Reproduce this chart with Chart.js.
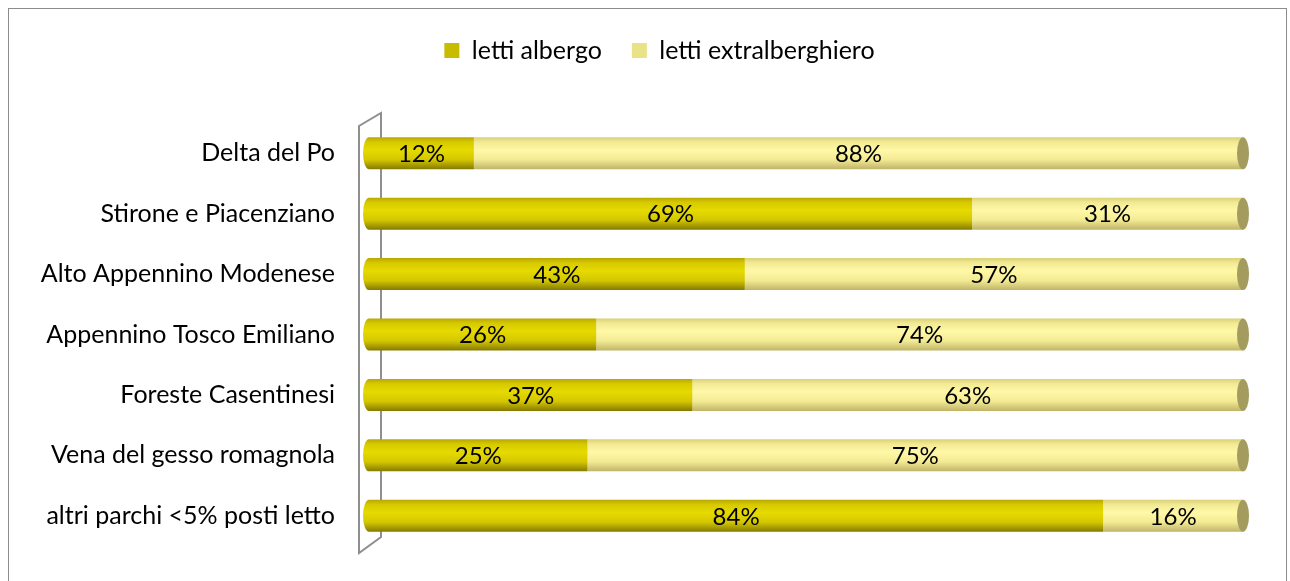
<!DOCTYPE html>
<html>
<head>
<meta charset="utf-8">
<script src="https://cdn.jsdelivr.net/npm/chart.js@4"></script>
<style>
  html, body { margin: 0; padding: 0; background: #fff; }
  #wrap { width: 1290px; height: 581px; position: relative; }
</style>
</head>
<body>
<div id="wrap"><canvas id="chart" width="1290" height="581"></canvas></div>
<script>
// ── DATA ──────────────────────────────────────────────────────────────────────
const categories = [
  'Delta del Po',
  'Stirone e Piacenziano',
  'Alto Appennino Modenese',
  'Appennino Tosco Emiliano',
  'Foreste Casentinesi',
  'Vena del gesso romagnola',
  'altri parchi <5% posti letto'
];
const lettiAlbergo = [12, 69, 43, 26, 37, 25, 84];
const lettiExtra   = [88, 31, 57, 74, 63, 75, 16];

const FONT = 'Lato, "Open Sans", sans-serif';
const BAR_PCT = 0.53;

// ── CYLINDER GRADIENTS ────────────────────────────────────────────────────────
function cylFill(ctx, stops) {
  const chart = ctx.chart;
  const ys = chart.scales.y;
  if (!chart.chartArea || !ys || ctx.type !== 'data') return stops[2][1];
  const cy = ys.getPixelForValue(ctx.dataIndex);
  const h = (ys.height / categories.length) * BAR_PCT;
  const g = chart.ctx.createLinearGradient(0, cy - h / 2, 0, cy + h / 2);
  stops.forEach(([p, c]) => g.addColorStop(p, c));
  return g;
}
const darkStops = [[0, '#b8a800'], [0.15, '#d6c900'], [0.4, '#e6da00'], [0.7, '#d4c700'], [1, '#857a00']];
const lightStops = [[0, '#d9d078'], [0.15, '#f2e994'], [0.4, '#fff8a6'], [0.7, '#f3ea94'], [1, '#bfb468']];

// ── PLUGINS ───────────────────────────────────────────────────────────────────
const frame = {
  id: 'frame',
  beforeDraw(chart) {
    const c = chart.ctx;
    c.save();
    c.strokeStyle = '#8c8c8c';
    c.lineWidth = 1;
    c.strokeRect(8.5, 8.5, 1278, 640);
    c.restore();
  },
  beforeDatasetsDraw(chart) {
    // left wall of the 3D plot
    const c = chart.ctx;
    const a = chart.chartArea;
    c.save();
    c.strokeStyle = '#8f8f8f';
    c.lineWidth = 2;
    c.beginPath();
    c.moveTo(a.left - 10, a.top + 3);
    c.lineTo(a.left - 10, a.bottom + 7);
    c.lineTo(a.left + 12, a.bottom - 9);
    c.lineTo(a.left + 12, a.top - 10);
    c.closePath();
    c.stroke();
    c.restore();
  },
  afterDatasetsDraw(chart) {
    const c = chart.ctx;
    const m0 = chart.getDatasetMeta(0);
    const m1 = chart.getDatasetMeta(1);
    c.save();
    // left rounded caps and right end faces
    m0.data.forEach(bar => {
      const h = bar.height;
      const g = c.createLinearGradient(0, bar.y - h / 2, 0, bar.y + h / 2);
      darkStops.forEach(([p, col]) => g.addColorStop(p, col));
      c.fillStyle = g;
      c.beginPath();
      c.ellipse(bar.base, bar.y, 6, h / 2, 0, Math.PI / 2, Math.PI * 1.5);
      c.fill();
    });
    m1.data.forEach(bar => {
      const h = bar.height;
      c.fillStyle = '#a49c5e';
      c.beginPath();
      c.ellipse(bar.x, bar.y, 6, h / 2, 0, 0, Math.PI * 2);
      c.fill();
    });
    // value labels
    c.fillStyle = '#000';
    c.font = '24px ' + FONT;
    c.textAlign = 'center';
    c.textBaseline = 'middle';
    [[m0, lettiAlbergo], [m1, lettiExtra]].forEach(([meta, vals]) => {
      meta.data.forEach((bar, i) => {
        c.fillText(vals[i] + '%', (bar.base + bar.x) / 2, bar.y + 1);
      });
    });
    c.restore();
  }
};

// legend: extra space below it and shifted right like the original
const legendGap = {
  id: 'legendGap',
  beforeInit(chart) {
    const lg = chart.legend;
    const origFit = lg.fit;
    lg.fit = function () {
      origFit.call(this);
      this.height += 50;
    };
    const origDraw = lg.draw;
    lg.draw = function () {
      this.left += 34; this.right += 34;
      origDraw.call(this);
      this.left -= 34; this.right -= 34;
    };
  }
};

// ── CHART ─────────────────────────────────────────────────────────────────────
new Chart(document.getElementById('chart'), {
  type: 'bar',
  data: {
    labels: categories,
    datasets: [
      {
        label: 'letti albergo',
        data: lettiAlbergo,
        backgroundColor: ctx => cylFill(ctx, darkStops),
        borderWidth: 0,
        barPercentage: BAR_PCT,
        categoryPercentage: 1
      },
      {
        label: 'letti extralberghiero',
        data: lettiExtra,
        backgroundColor: ctx => cylFill(ctx, lightStops),
        borderWidth: 0,
        barPercentage: BAR_PCT,
        categoryPercentage: 1
      }
    ]
  },
  options: {
    indexAxis: 'y',
    responsive: false,
    animation: false,
    layout: { padding: { top: 8, left: 8, right: 47, bottom: 35 } },
    plugins: {
      legend: {
        position: 'top',
        align: 'center',
        labels: {
          color: '#000',
          font: { family: FONT, size: 25 },
          boxWidth: 15,
          boxHeight: 15,
          padding: 30,
          generateLabels: chart => chart.data.datasets.map((ds, i) => ({
            text: ds.label,
            fillStyle: i === 0 ? '#c8bc00' : '#eae286',
            strokeStyle: i === 0 ? '#c8bc00' : '#eae286',
            lineWidth: 0,
            datasetIndex: i
          }))
        }
      },
      tooltip: { enabled: false }
    },
    scales: {
      x: {
        stacked: true,
        min: 0,
        max: 100,
        display: false
      },
      y: {
        stacked: true,
        grid: {
          display: true,
          drawOnChartArea: false,
          drawTicks: true,
          tickLength: 30,
          color: 'rgba(0,0,0,0)'
        },
        border: { display: false },
        ticks: {
          color: '#000',
          font: { family: FONT, size: 25 },
          padding: 4
        },
        afterFit(scale) { scale.width = 361; }
      }
    }
  },
  plugins: [frame, legendGap]
});
</script>
</body>
</html>
